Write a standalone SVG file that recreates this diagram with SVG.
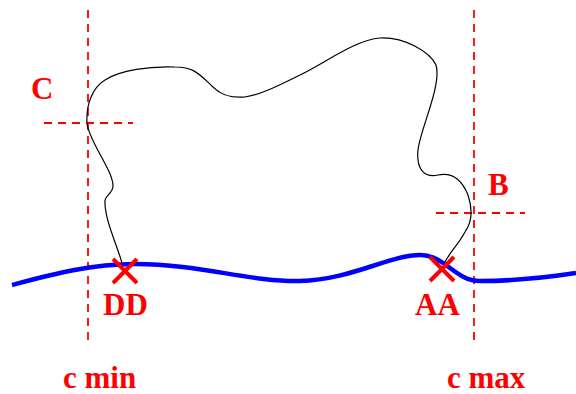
<svg xmlns="http://www.w3.org/2000/svg" width="576" height="394" viewBox="0 0 576 394">
<style>
.dash{stroke:#ff0000;stroke-width:1.8;stroke-dasharray:8 6;fill:none}
.lbl{font-family:"Liberation Serif","Times New Roman",serif;font-weight:bold;font-size:31px;fill:#ff0000}
.cross{stroke:#ff0000;stroke-width:4;fill:none}
</style>
<rect width="576" height="394" fill="#fff"/>
<g id="guides">
<line class="dash" x1="88" y1="10" x2="88" y2="340"/>
<line class="dash" x1="474" y1="10" x2="474" y2="340"/>
<line class="dash" x1="44" y1="123" x2="133" y2="123"/>
<line class="dash" x1="436" y1="213" x2="525" y2="213"/>
</g>
<g id="boundary">
<path d="M 122 263 C 116 242, 104 218, 105 200 C 106 195, 113 193, 113 186 C 113 170, 88 140, 87 123 C 86 105, 92 88, 105 80 C 120 70, 150 66, 175 67 C 195 67, 200 75, 213 87 C 222 96, 232 98, 245 97 C 260 95, 280 85, 300 75 C 325 63, 355 40, 380 38 C 405 37, 430 52, 436 65 C 442 85, 420 130, 418 150 C 416 170, 425 178, 438 175 C 452 172, 462 180, 468 195 C 473 210, 472 222, 465 232 C 458 245, 450 252, 445 262" fill="none" stroke="#000" stroke-width="1.2"/>
</g>
<g id="surface">
<path d="M 12 285 C 50 275, 90 264, 135 264 C 200 264, 250 282, 300 281 C 350 280, 390 255, 420 255 C 445 255, 455 281, 480 281 C 520 281, 550 277, 576 273" fill="none" stroke="#0000ff" stroke-width="4.5"/>
</g>
<g id="DD">
<path class="cross" d="M 113 259 L 137 283 M 137 259 L 113 283"/>
<text class="lbl" x="103" y="315">DD</text>
</g>
<g id="AA">
<path class="cross" d="M 430 257 L 454 281 M 454 257 L 430 281"/>
<text class="lbl" x="415" y="315">AA</text>
</g>
<g id="labels">
<text class="lbl" x="31" y="99">C</text>
<text class="lbl" x="488" y="195">B</text>
<text class="lbl" x="63" y="388">c min</text>
<text class="lbl" x="447" y="388">c max</text>
</g>
</svg>
